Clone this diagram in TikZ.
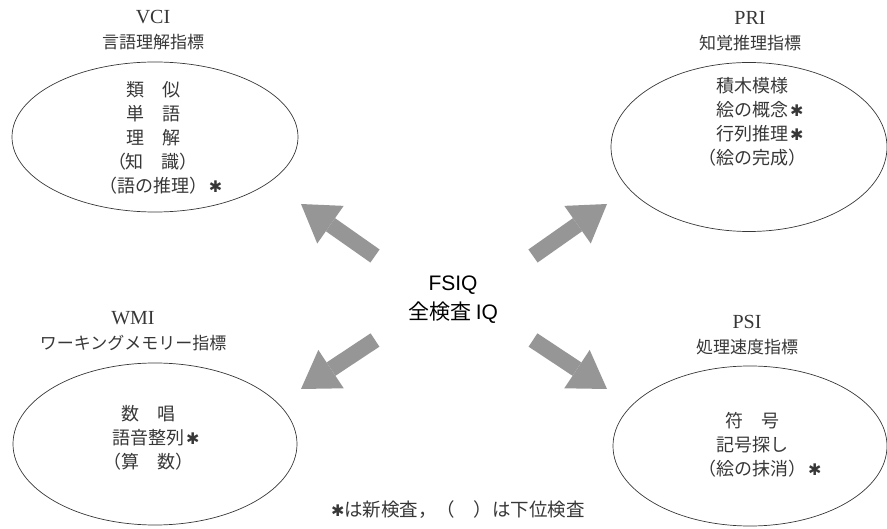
\documentclass[tikz,border=0pt]{standalone}
\usepackage{fontspec}
\setmainfont{Liberation Serif}
\newfontfamily\jpfont{Noto Sans CJK JP}
\newfontfamily\latinsans{Liberation Sans}
\newfontfamily\symfont{DejaVu Sans}
\usetikzlibrary{arrows.meta,shapes.geometric}
\definecolor{arrowgray}{RGB}{150,150,150}
\definecolor{inkgray}{RGB}{55,55,55}
\newcommand{\starmark}{{\symfont\bfseries\fontsize{16}{16}\selectfont ✱}}
\newcommand{\newmark}{\rlap{\hspace{2pt}\starmark}}
\begin{document}
\begin{tikzpicture}[x=1pt,y=-1pt,
  oval/.style={draw=inkgray, line width=0.7pt, ellipse, inner sep=0pt},
  title/.style={text=inkgray, align=center, font=\fontsize{20}{25}\selectfont},
  items/.style={text=inkgray, align=center, font=\jpfont\fontsize{18}{24}\selectfont},
  bigarrow/.style={draw=arrowgray, line width=16pt,
    -{Triangle[width=46pt,length=36pt,line width=0pt 0]}}
]
\useasboundingbox (0,0) rectangle (887,529);

% ellipses
\node[oval, minimum width=286pt, minimum height=150pt] (vci) at (155,137) {};
\node[oval, minimum width=276pt, minimum height=169pt] (pri) at (749,147) {};
\node[oval, minimum width=284pt, minimum height=162pt] (wmi) at (155,444) {};
\node[oval, minimum width=274pt, minimum height=160pt] (psi) at (750,446) {};

% titles
\node[title] (vcititle) at (153,30) {VCI\\{\jpfont\fontsize{17}{25}\selectfont 言語理解指標}};
\node[title] (prititle) at (750,31) {PRI\\{\jpfont\fontsize{17}{25}\selectfont 知覚推理指標}};
\node[title] (wmititle) at (133,331) {WMI\\{\jpfont\fontsize{17}{25}\selectfont ワーキングメモリー指標}};
\node[title] (psititle) at (747,335) {PSI\\{\jpfont\fontsize{17}{25}\selectfont 処理速度指標}};

% subtests
\node[items] (vciitems) at (153,138) {類　似\\単　語\\理　解\\（知　識）\\（語の推理）\newmark};
\node[items] (priitems) at (752,122) {積木模様\\絵の概念\newmark\\行列推理\newmark\\（絵の完成）};
\node[items] (wmiitems) at (148,438) {数　唱\\語音整列\newmark\\（算　数）};
\node[items] (psiitems) at (752,445) {符　号\\記号探し\\（絵の抹消）\newmark};

% centre
\node[align=center, font=\jpfont\fontsize{21}{29}\selectfont] (fsiq) at (453,300) {{\latinsans FSIQ}\\全検査 {\latinsans IQ}};

% arrows
\coordinate (ultail) at (375,256);
\coordinate (ultip) at (301,204);
\coordinate (urtail) at (533,256);
\coordinate (urtip) at (607,204);
\coordinate (lltail) at (375,340);
\coordinate (lltip) at (301,389);
\coordinate (lrtail) at (533,340);
\coordinate (lrtip) at (607,389);
\draw[bigarrow] (ultail) -- (ultip);
\draw[bigarrow] (urtail) -- (urtip);
\draw[bigarrow] (lltail) -- (lltip);
\draw[bigarrow] (lrtail) -- (lrtip);

% note
\node[text=inkgray, font=\jpfont\fontsize{18.5}{20}\selectfont] (note) at (458,510) {\starmark は新検査，（　）は下位検査};
\end{tikzpicture}
\end{document}
